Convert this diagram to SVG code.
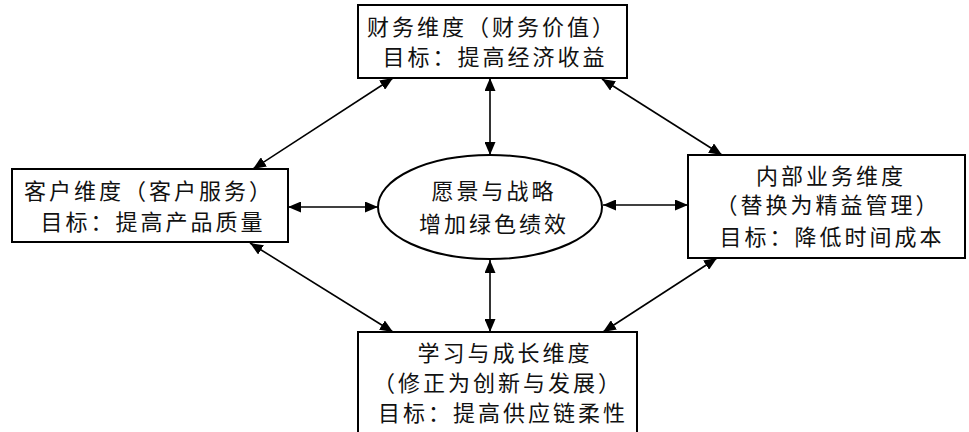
<svg xmlns="http://www.w3.org/2000/svg" width="969" height="432" viewBox="0 0 969 432">
<defs>
<marker id="ah" viewBox="0 0 13 11" refX="13" refY="5.5" markerWidth="13" markerHeight="11" markerUnits="userSpaceOnUse" orient="auto-start-reverse">
<path d="M0,0 L13,5.5 L0,11 Z" fill="#000"/>
</marker>
<style>
.box{fill:#fff;stroke:#000;stroke-width:2}
.t{font-family:"Noto Sans CJK SC","Noto Sans",sans-serif;font-size:22px;letter-spacing:3px;text-anchor:middle;fill:#111}
.c{stroke:#000;stroke-width:1.6;fill:none;marker-start:url(#ah);marker-end:url(#ah)}
</style>
</defs>
<rect width="969" height="432" fill="#fff"/>
<g id="connectors">
<line class="c" x1="490" y1="78" x2="490" y2="155"/>
<line class="c" x1="490" y1="260" x2="490" y2="332"/>
<line class="c" x1="288" y1="207" x2="378" y2="207"/>
<line class="c" x1="603" y1="205" x2="688" y2="205"/>
<line class="c" x1="393" y1="78" x2="253" y2="169"/>
<line class="c" x1="602" y1="79" x2="722" y2="155"/>
<line class="c" x1="250" y1="243" x2="393" y2="332"/>
<line class="c" x1="717" y1="258" x2="603" y2="332"/>
</g>
<g id="finance">
<rect class="box" x="358" y="5" width="269" height="73"/>
<text class="t" x="492" y="35">财务维度（财务价值）</text>
<text class="t" x="495" y="65">目标：提高经济收益</text>
</g>
<g id="customer">
<rect class="box" x="12" y="169" width="276" height="73"/>
<text class="t" x="149" y="199">客户维度（客户服务）</text>
<text class="t" x="153" y="230">目标：提高产品质量</text>
</g>
<g id="internal">
<rect class="box" x="688" y="155" width="277" height="103"/>
<text class="t" x="831" y="184">内部业务维度</text>
<text class="t" x="828" y="213">（替换为精益管理）</text>
<text class="t" x="832" y="245">目标：降低时间成本</text>
</g>
<g id="learning">
<rect class="box" x="358" y="332" width="279" height="110"/>
<text class="t" x="505" y="361">学习与成长维度</text>
<text class="t" x="498" y="391">（修正为创新与发展）</text>
<text class="t" x="503" y="421">目标：提高供应链柔性</text>
</g>
<g id="vision">
<ellipse cx="490" cy="207" rx="112" ry="52" fill="#fff" stroke="#000" stroke-width="2"/>
<text class="t" x="494" y="199">愿景与战略</text>
<text class="t" x="494" y="232">增加绿色绩效</text>
</g>
</svg>
